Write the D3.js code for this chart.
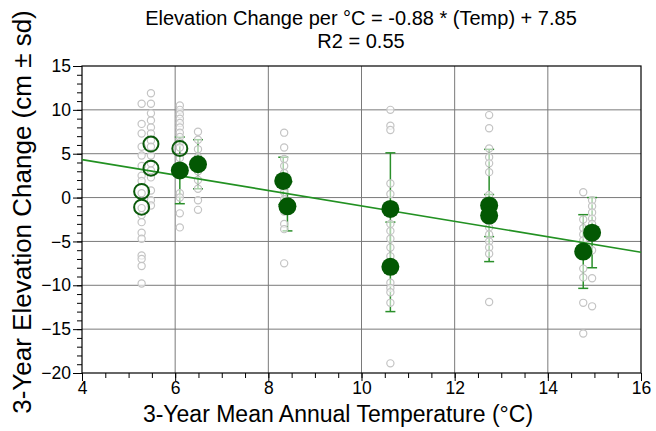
<!DOCTYPE html>
<html>
<head>
<meta charset="utf-8">
<script src="https://cdn.jsdelivr.net/npm/d3@7"></script>
<style>
  body { margin: 0; background: #fff; }
  text { font-family: "Liberation Sans", Arial, sans-serif; }
</style>
</head>
<body>
<div id="chart"></div>
<script>
// individual plot measurements (gray circles), one group per site/temperature
const rawGroups = [
  { temp: 5.28, values: [10.7, 8.4, 7.3, 5.8, 4.8, 3.6, 2.5, 1.9, 0.5, -1.2, -2.0, -2.8, -4.0, -4.7, -6.6, -7.0, -7.8, -9.8] },
  { temp: 5.48, values: [11.9, 10.7, 9.6, 8.8, 8.0, 7.3, 6.5, 5.8, 4.8, 3.9, 3.1, 2.3, 0.8, -0.3, -0.9] },
  { temp: 6.10, values: [10.5, 10.0, 9.5, 9.0, 8.5, 8.0, 7.4, 6.9, 6.3, 5.7, 4.5, 0.5, 0.0, -1.8, -3.4] },
  { temp: 6.49, values: [7.5, 6.6, 5.5, 4.6, 3.0, 2.0, 1.0, -0.3, -1.4] },
  { temp: 8.34, values: [7.4, 5.7, 4.4, 3.6, 2.8, 2.1, 1.2, 0.6, -0.2, -1.6, -3.0, -3.6, -7.5] },
  { temp: 10.62, values: [10.0, 8.2, 7.7, 1.6, 0.4, -1.0, -3.0, -3.8, -4.7, -5.7, -6.7, -9.7, -10.3, -10.8, -12.0, -18.9] },
  { temp: 12.74, values: [9.4, 7.9, 5.6, 4.6, 3.9, 2.9, 0.3, -1.5, -3.4, -4.2, -5.0, -5.7, -6.4, -11.9] },
  { temp: 14.76, values: [0.6, -2.5, -3.5, -4.2, -4.9, -5.6, -8.1, -9.1, -12.0, -15.5] },
  { temp: 14.95, values: [-0.3, -1.0, -1.7, -2.4, -3.0, -4.5, -6.0, -9.2, -12.4] }
];

// site means with sd (filled circles)
const meanTemps = [6.10, 6.49, 8.32, 8.41, 10.62, 10.62, 12.74, 12.74, 14.76, 14.95];
const meanValues = [3.1, 3.8, 1.9, -1.0, -1.3, -7.9, -0.9, -2.05, -6.15, -4.0];
const meanSds = [3.8, 2.8, 2.7, 2.8, 6.4, 5.1, 6.4, 2.4, 4.2, 4.0];

// open circles (site means without sd)
const openTemps = [5.28, 5.28, 5.48, 5.48, 6.10];
const openValues = [-1.1, 0.7, 3.35, 6.1, 5.6];

const slope = -0.88, intercept = 7.85;
const titleLines = ["Elevation Change per \u00B0C = -0.88 * (Temp) + 7.85", "R2 = 0.55"];
const xTicks = [4, 6, 8, 10, 12, 14, 16];
const yTicks = [15, 10, 5, 0, -5, -10, -15, -20];

const W = 656, H = 431;
const margin = { top: 66, right: 15, bottom: 58, left: 82 };
const width = W - margin.left - margin.right,
      height = H - margin.top - margin.bottom;

const svg = d3.select("#chart").append("svg")
    .attr("width", W).attr("height", H);

const g = svg.append("g")
    .attr("transform", `translate(${margin.left},${margin.top})`);

const x = d3.scaleLinear().domain([4, 16]).range([0, width]);
const y = d3.scaleLinear().domain([-20, 15]).range([height, 0]);

// grid
g.append("g").selectAll("line").data(xTicks.slice(1, -1)).join("line")
    .attr("x1", d => x(d)).attr("x2", d => x(d))
    .attr("y1", 0).attr("y2", height)
    .attr("stroke", "#7a7a7a").attr("stroke-width", 1);
g.append("g").selectAll("line").data(yTicks.slice(1, -1)).join("line")
    .attr("y1", d => y(d)).attr("y2", d => y(d))
    .attr("x1", 0).attr("x2", width)
    .attr("stroke", "#7a7a7a").attr("stroke-width", 1);

// minor ticks
const xMinor = d3.range(4, 16.01, 0.5);
const yMinor = d3.range(-20, 15.01, 1);
g.append("g").attr("transform", `translate(0,${height})`)
    .call(d3.axisBottom(x).tickValues(xMinor).tickSize(5).tickFormat(""))
    .call(a => a.select(".domain").remove());
g.append("g")
    .call(d3.axisLeft(y).tickValues(yMinor).tickSize(5).tickFormat(""))
    .call(a => a.select(".domain").remove());

// major axes
const xAxis = g.append("g").attr("transform", `translate(0,${height})`)
    .call(d3.axisBottom(x).tickValues(xTicks).tickSize(8).tickPadding(1).tickFormat(d3.format("d")));
const yAxis = g.append("g")
    .call(d3.axisLeft(y).tickValues(yTicks).tickSize(9).tickPadding(2).tickFormat(d3.format("d")));
[xAxis, yAxis].forEach(a => {
  a.selectAll("text").attr("font-size", 17.5).attr("fill", "#000")
    .style("font-family", "'Liberation Sans', Arial, sans-serif");
  a.select(".domain").remove();
});

// frame
g.append("rect").attr("width", width).attr("height", height)
    .attr("fill", "none").attr("stroke", "#000").attr("stroke-width", 1.2);

// error bars
const meanData = meanTemps.map((t, i) => ({ t, v: meanValues[i], sd: meanSds[i] }));
const eb = g.append("g").attr("stroke", "#2a8f2a").attr("stroke-width", 1.5);
eb.selectAll("line.v").data(meanData).join("line").attr("class", "v")
    .attr("x1", d => x(d.t)).attr("x2", d => x(d.t))
    .attr("y1", d => y(d.v + d.sd)).attr("y2", d => y(d.v - d.sd));
["top", "bot"].forEach(k => {
  eb.selectAll("line." + k).data(meanData).join("line").attr("class", k)
    .attr("x1", d => x(d.t) - 5).attr("x2", d => x(d.t) + 5)
    .attr("y1", d => y(k === "top" ? d.v + d.sd : d.v - d.sd))
    .attr("y2", d => y(k === "top" ? d.v + d.sd : d.v - d.sd));
});

// raw points (white filled, so they break the error bars)
const rawPts = rawGroups.flatMap(gr => gr.values.map(v => ({ t: gr.temp, v })));
g.append("g").selectAll("circle").data(rawPts).join("circle")
    .attr("cx", d => x(d.t)).attr("cy", d => y(d.v)).attr("r", 3.6)
    .attr("fill", "#fff").attr("fill-opacity", 0.6)
    .attr("stroke", "#c4c4c4").attr("stroke-width", 1.2);

// regression line
g.append("line")
    .attr("x1", x(4)).attr("y1", y(slope * 4 + intercept))
    .attr("x2", x(16)).attr("y2", y(slope * 16 + intercept))
    .attr("stroke", "#229122").attr("stroke-width", 1.6);

// open means
g.append("g").selectAll("circle").data(openTemps.map((t, i) => ({ t, v: openValues[i] }))).join("circle")
    .attr("cx", d => x(d.t)).attr("cy", d => y(d.v)).attr("r", 7.5)
    .attr("fill", "none").attr("stroke", "#0b5a0b").attr("stroke-width", 2);

// filled means
g.append("g").selectAll("circle").data(meanData).join("circle")
    .attr("cx", d => x(d.t)).attr("cy", d => y(d.v)).attr("r", 9)
    .attr("fill", "#035803");

// title
svg.append("g").selectAll("text").data(titleLines).join("text")
    .attr("x", 361).attr("y", (d, i) => 25 + i * 23)
    .attr("text-anchor", "middle").attr("font-size", 20).attr("fill", "#000")
    .text(d => d);

// axis labels
svg.append("text")
    .attr("x", 338).attr("y", 422)
    .attr("text-anchor", "middle").attr("font-size", 23)
    .text("3-Year Mean Annual Temperature (\u00B0C)");
svg.append("text")
    .attr("transform", `translate(31,212) rotate(-90)`)
    .attr("text-anchor", "middle").attr("font-size", 26)
    .text("3-Year Elevation Change (cm \u00B1 sd)");
</script>
</body>
</html>
